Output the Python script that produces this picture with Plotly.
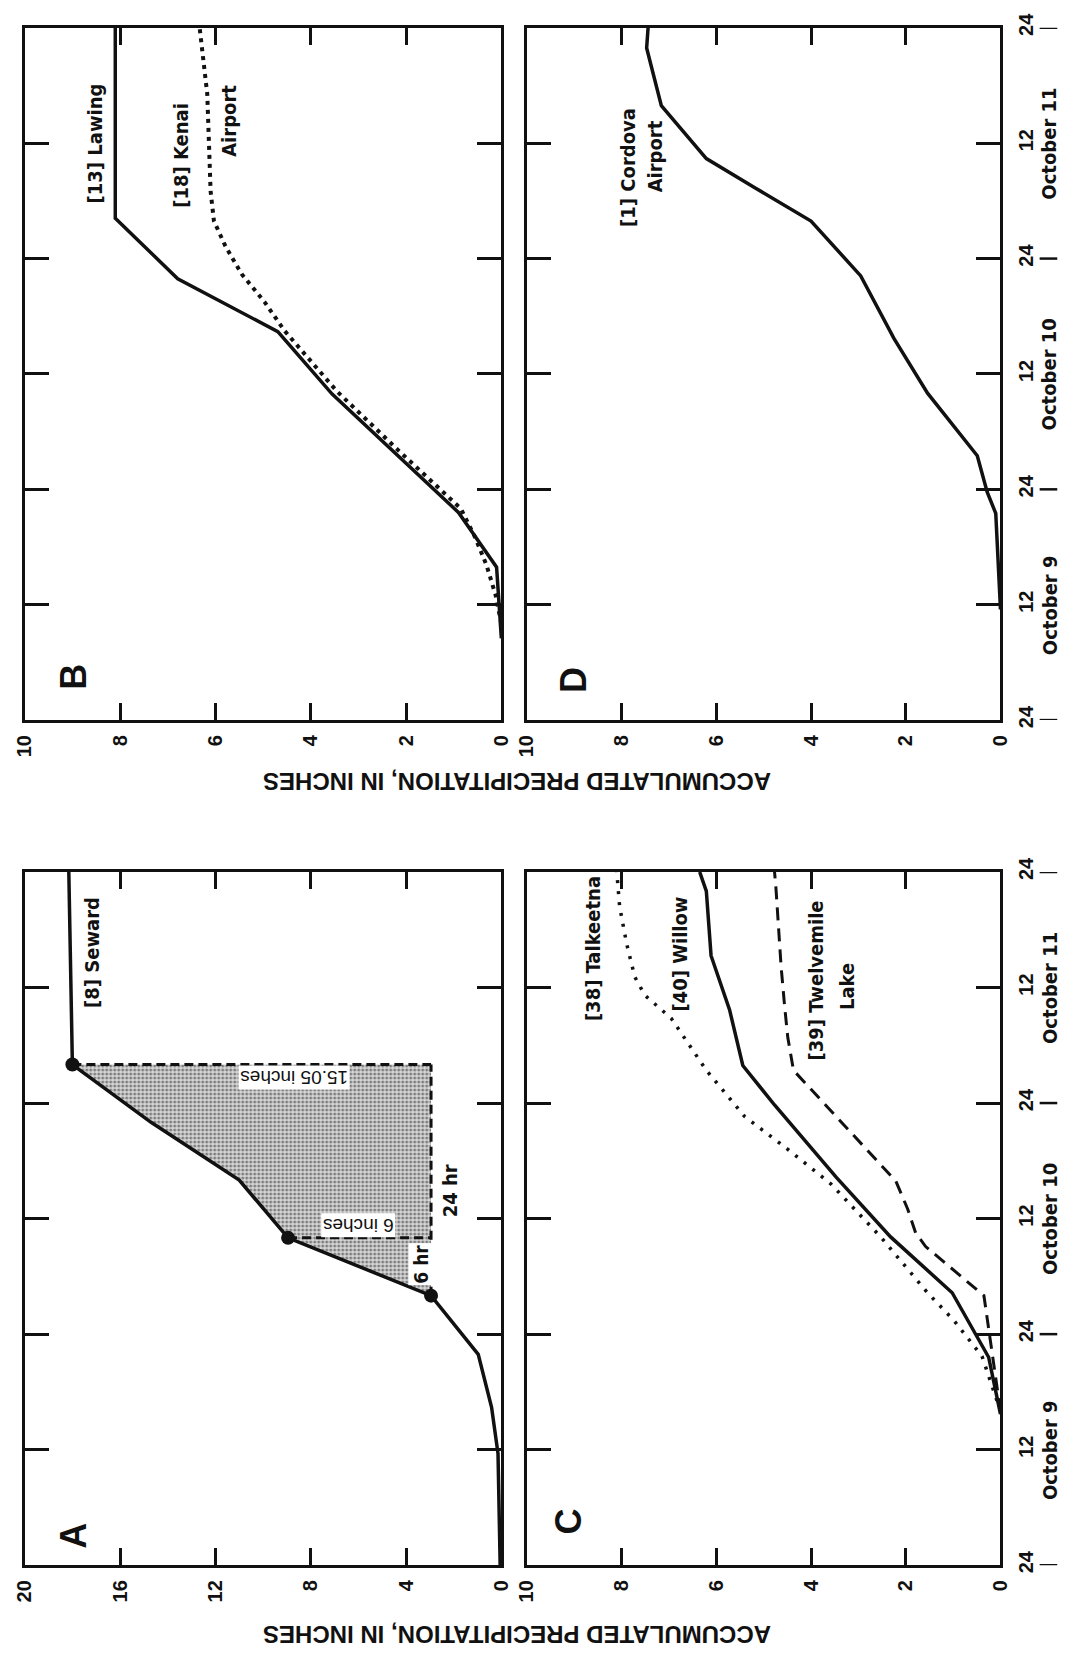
import plotly.graph_objects as go

# ---------------------------------------------------------------------------
# Accumulated precipitation, October 9-11, drawn in a quarter-turn layout:
# precipitation runs right-to-left, time runs bottom-to-top.
# Time is in hours after 24:00 October 8.
# ---------------------------------------------------------------------------
hour_ticks = [0, 12, 24, 36, 48, 60, 72]
hour_tick_text = ["24", "12", "24", "12", "24", "12", "24"]
day_names = ["October 9", "October 10", "October 11"]
day_midday = [12, 36, 60]
day_breaks = [0, 24, 48, 72]

precip_ticks_a = [0, 4, 8, 12, 16, 20]
precip_ticks = [0, 2, 4, 6, 8, 10]

# Panel A - [8] Seward
seward_hr = [0, 11.6, 16.4, 21.9, 28, 34, 40, 46, 52, 72]
seward_in = [0.05, 0.14, 0.41, 0.97, 2.95, 8.95, 11.0, 14.7, 18.0, 18.15]
burst_start_hr = 28
six_hr_end = 34
day_end_hr = 52

# Panel B - [13] Lawing, [18] Kenai Airport
lawing_hr = [8.5, 15.9, 21.6, 33.9, 40.4, 45.9, 52.2, 72]
lawing_in = [0.0, 0.1, 0.9, 3.55, 4.69, 6.79, 8.1, 8.1]
kenai_hr = [10, 13, 16.1, 19, 22, 28, 34.2, 40.5, 43.5, 46.4, 49.3, 51.9, 55, 60.3, 65.1, 72]
kenai_in = [0.0, 0.12, 0.31, 0.55, 0.85, 2.15, 3.45, 4.55, 4.97, 5.45, 5.79, 6.03, 6.1, 6.14, 6.17, 6.33]

# Panel C - [38] Talkeetna, [40] Willow, [39] Twelvemile Lake
talkeetna_hr = [16, 21.7, 25.4, 28.3, 34.1, 39.6, 43.2, 46.6, 51.4, 56.8, 59.2, 61.1, 64.5, 68.4, 72]
talkeetna_in = [0.0, 0.39, 0.98, 1.54, 2.53, 3.58, 4.49, 5.4, 6.21, 6.95, 7.51, 7.72, 7.89, 8.04, 8.1]
willow_hr = [15.7, 21.6, 28.3, 34.1, 40.3, 47.8, 51.9, 57.7, 63.3, 70.0, 72]
willow_in = [0.0, 0.25, 1.02, 2.32, 3.47, 4.77, 5.44, 5.72, 6.11, 6.21, 6.35]
twelvemile_hr = [16, 20.2, 22.8, 28.0, 33.1, 34.5, 37.0, 39.9, 51.4, 54.8, 58.2, 62.1, 70.3, 72]
twelvemile_in = [0.0, 0.12, 0.21, 0.35, 1.58, 1.79, 1.96, 2.21, 4.37, 4.49, 4.56, 4.63, 4.74, 4.77]

# Panel D - [1] Cordova Airport
cordova_hr = [11.5, 21.5, 23.7, 27.5, 34.0, 39.7, 46.2, 51.9, 55.3, 58.4, 63.9, 69.9, 72]
cordova_in = [0.0, 0.1, 0.28, 0.49, 1.54, 2.25, 2.95, 4.0, 5.16, 6.21, 7.16, 7.47, 7.44]

BLACK = "#111111"
SANS = "Liberation Sans, Arial, Helvetica, sans-serif"
NARROW = "DejaVu Sans Condensed, Liberation Sans Narrow, Arial Narrow, sans-serif"

W, H = 1080, 1661
LEFT_X = [13 / W, 500 / W]
RIGHT_X = [526 / W, 1010 / W]
TOP_Y = [1 - 715 / H, 1 - 13 / H]
BOTTOM_Y = [1 - 1572 / H, 1 - 869 / H]

panels = [
    # name, axis suffix, x domain, y domain, x max, x ticks, time labels shown
    ("A", "", LEFT_X, BOTTOM_Y, 20, precip_ticks_a, False),
    ("B", "2", LEFT_X, TOP_Y, 10, precip_ticks, False),
    ("C", "3", RIGHT_X, BOTTOM_Y, 10, precip_ticks, True),
    ("D", "4", RIGHT_X, TOP_Y, 10, precip_ticks, True),
]

fig = go.Figure()


def add_line(x, y, axis, width=3.5, dash="solid"):
    fig.add_trace(go.Scatter(
        x=x, y=y, mode="lines", xaxis="x" + axis, yaxis="y" + axis,
        line=dict(color=BLACK, width=width, dash=dash),
        hoverinfo="skip", showlegend=False))


# --- Panel A: shaded 24-hour burst and the Seward curve ---
burst_x = [p for h, p in zip(seward_hr, seward_in) if burst_start_hr <= h <= day_end_hr]
burst_y = [h for h in seward_hr if burst_start_hr <= h <= day_end_hr]
base_in = seward_in[seward_hr.index(burst_start_hr)]
six_in = seward_in[seward_hr.index(six_hr_end)]
top_in = seward_in[seward_hr.index(day_end_hr)]
fig.add_trace(go.Scatter(
    x=burst_x + [base_in], y=burst_y + [day_end_hr],
    mode="lines", fill="toself", xaxis="x", yaxis="y",
    line=dict(width=0, color="rgba(0,0,0,0)"),
    fillcolor="#cfcfcf",
    fillpattern=dict(shape=".", size=4, solidity=0.45, fgcolor="#222222", bgcolor="#d8d8d8"),
    hoverinfo="skip", showlegend=False))
# dashed outline of the burst
add_line([base_in, base_in], [burst_start_hr, day_end_hr], "", width=3, dash="9px,5px")
add_line([top_in, base_in], [day_end_hr, day_end_hr], "", width=3, dash="9px,5px")
add_line([six_in, base_in], [six_hr_end, six_hr_end], "", width=3, dash="9px,5px")
add_line(seward_in, seward_hr, "")
fig.add_trace(go.Scatter(
    x=[base_in, six_in, top_in], y=[burst_start_hr, six_hr_end, day_end_hr],
    mode="markers", xaxis="x", yaxis="y",
    marker=dict(color=BLACK, size=14), hoverinfo="skip", showlegend=False))

# --- Panel B ---
add_line(kenai_in, kenai_hr, "2", width=4, dash="4px,5px")
add_line(lawing_in, lawing_hr, "2")

# --- Panel C ---
add_line(talkeetna_in, talkeetna_hr, "3", width=3.5, dash="3px,8px")
add_line(twelvemile_in, twelvemile_hr, "3", width=3, dash="13px,8px")
add_line(willow_in, willow_hr, "3")

# --- Panel D ---
add_line(cordova_in, cordova_hr, "4")

# --- Axes ---
layout = dict(
    width=W, height=H, margin=dict(l=0, r=0, t=0, b=0),
    paper_bgcolor="white", plot_bgcolor="white",
    font=dict(family=SANS, color=BLACK),
)
for name, ax, xdom, ydom, xmax, xticks, show_time in panels:
    layout["xaxis" + ax] = dict(
        domain=xdom, anchor="y" + ax, range=[xmax, 0],
        tickmode="array", tickvals=xticks, ticktext=[str(t) for t in xticks],
        ticks="inside", ticklen=17, tickwidth=2.5, tickcolor=BLACK,
        showline=True, linewidth=3, linecolor=BLACK, mirror="ticks",
        showgrid=False, zeroline=False, tickangle=-90,
        tickfont=dict(family=SANS, size=20, color=BLACK, weight="bold"),
        ticklabelstandoff=4, fixedrange=True,
    )
    layout["yaxis" + ax] = dict(
        domain=ydom, anchor="x" + ax, range=[0, 72], side="right",
        tickmode="array", tickvals=hour_ticks, ticktext=hour_tick_text,
        ticks="inside", ticklen=24, tickwidth=2.5, tickcolor=BLACK,
        showline=True, linewidth=3, linecolor=BLACK, mirror="ticks",
        showgrid=False, zeroline=False, showticklabels=show_time,
        tickangle=-90, ticklabelstandoff=6,
        tickfont=dict(family=SANS, size=20, color=BLACK, weight="bold"),
        fixedrange=True,
    )
fig.update_layout(**layout)

annotations = []


def note(text, x, y, axis, size=20, angle=-90, bold=True, bg=None, family=NARROW):
    d = dict(text=text, x=x, y=y, xref="x" + axis, yref="y" + axis,
             xanchor="center", yanchor="middle",
             showarrow=False, textangle=angle,
             font=dict(family=family, size=size, color=BLACK,
                       weight="bold" if bold else "normal"))
    if bg:
        d.update(bgcolor=bg, borderpad=1)
    annotations.append(d)


# panel letters
note("A", 17.96, 3.1, "", size=36, family=SANS)
note("B", 8.97, 4.5, "2", size=36, family=SANS)
note("C", 9.12, 4.6, "3", size=36, family=SANS)
note("D", 9.0, 4.2, "4", size=36, family=SANS)

# station names
note("[8] Seward", 17.17, 63.6, "")
note("[13] Lawing", 8.52, 60.0, "2")
note("[18] Kenai", 6.72, 58.7, "2")
note("Airport", 5.72, 62.3, "2")
note("[38] Talkeetna", 8.6, 64.0, "3")
note("[40] Willow", 6.77, 63.5, "3")
note("[39] Twelvemile", 3.9, 60.7, "3")
note("Lake", 3.25, 60.1, "3")
note("[1] Cordova", 7.85, 57.5, "4")
note("Airport", 7.3, 58.6, "4")

# burst annotations
note(f"{top_in - base_in:.2f} inches", 8.7, 50.6, "", size=19, angle=180, bg="white", family=SANS, bold=False)
note(f"{six_in - base_in:.0f} inches", 6.0, 35.3, "", size=19, angle=180, bg="white", family=SANS, bold=False)
note(f"{six_hr_end - burst_start_hr} hr", 3.38, 31.3, "", size=19, bg="white")
note(f"{day_end_hr - burst_start_hr} hr", 2.17, 38.9, "", size=20)

# day names beside the time axis
for ax in ("3", "4"):
    for name, h in zip(day_names, day_midday):
        annotations.append(dict(
            text=name, x=1060 / W, y=h, xref="paper", yref="y" + ax,
            xanchor="center", yanchor="middle",
            showarrow=False, textangle=-90,
            font=dict(family=NARROW, size=20, color=BLACK, weight="bold")))

# axis titles (upside down along the bottom of each row)
title = "ACCUMULATED PRECIPITATION, IN INCHES"
for ty in (778, 1643):
    annotations.append(dict(
        text=title, x=516 / W, y=1 - ty / H, xref="paper", yref="paper",
        xanchor="center", yanchor="middle",
        showarrow=False, textangle=180,
        font=dict(family=SANS, size=24, color=BLACK, weight="bold")))

fig.update_layout(annotations=annotations)

# day-boundary tick extensions outside the time axis
shapes = []
for ax in ("3", "4"):
    for h in day_breaks:
        shapes.append(dict(type="line", xref="paper", yref="y" + ax,
                           x0=1050 / W, x1=1068 / W, y0=h, y1=h,
                           line=dict(color=BLACK, width=2.5)))
fig.update_layout(shapes=shapes)

fig.write_html("out.html")
